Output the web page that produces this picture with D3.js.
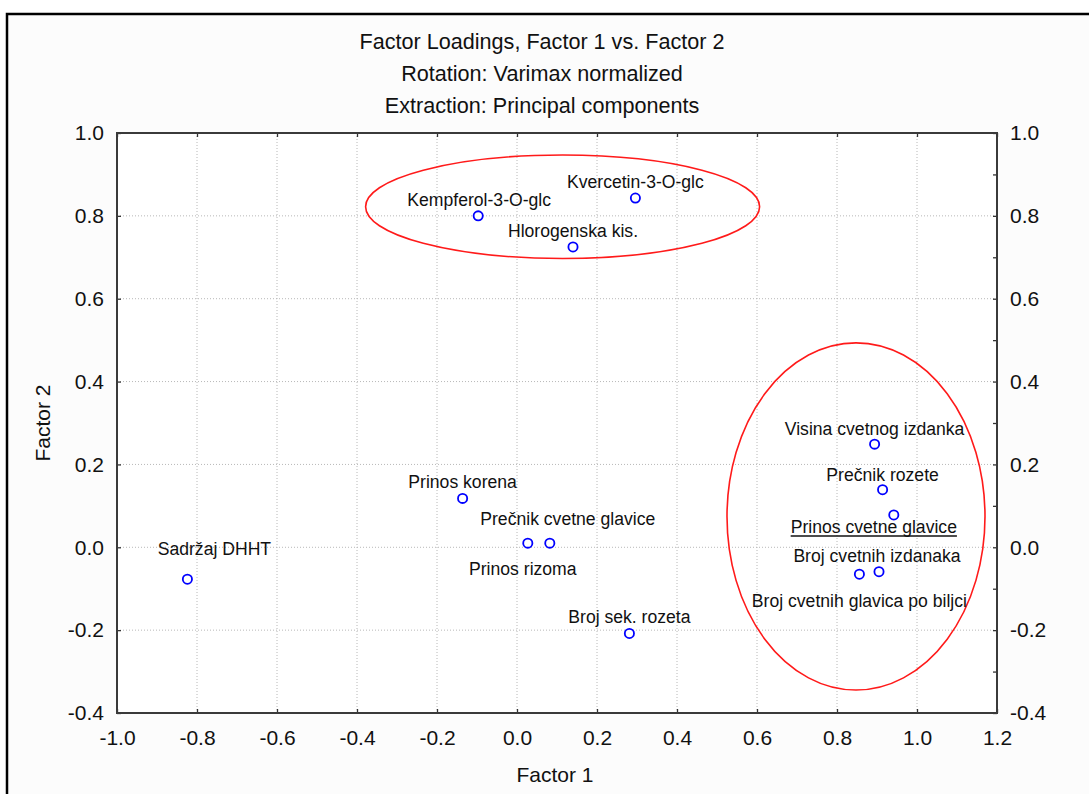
<!DOCTYPE html>
<html>
<head>
<meta charset="utf-8">
<script src="https://cdn.jsdelivr.net/npm/d3@7"></script>
<style>
  html, body { margin: 0; padding: 0; background: #ffffff; }
  svg { display: block; }
  text { font-family: "Liberation Sans", Arial, sans-serif; fill: #111; }
</style>
</head>
<body>
<svg id="chart" width="1089" height="794"></svg>
<script>
// ---------------- data ----------------
const titleLines = ["Factor Loadings, Factor 1 vs. Factor 2", "Rotation: Varimax normalized", "Extraction: Principal components"];
const xAxisTitle = "Factor 1";
const yAxisTitle = "Factor 2";

const variables = [
  "Kempferol-3-O-glc", "Kvercetin-3-O-glc", "Hlorogenska kis.",
  "Visina cvetnog izdanka", "Prečnik rozete", "Prinos cvetne glavice",
  "Broj cvetnih izdanaka", "Broj cvetnih glavica po biljci",
  "Sadržaj DHHT", "Prinos korena", "Prečnik cvetne glavice", "Prinos rizoma",
  "Broj sek. rozeta"
];
const factor1 = [-0.097, 0.296, 0.140, 0.894, 0.914, 0.942, 0.905, 0.856, -0.824, -0.136, 0.082, 0.027, 0.281];
const factor2 = [0.800, 0.843, 0.725, 0.249, 0.139, 0.078, -0.059, -0.065, -0.077, 0.118, 0.010, 0.010, -0.208];

// grouping ellipses (centre and semi-axes, in loading units)
const groupCx = [0.114, 0.8475];
const groupCy = [0.822, 0.0744];
const groupRx = [0.4925, 0.3225];
const groupRy = [0.1248, 0.419];

const xTickValues = [-1.0, -0.8, -0.6, -0.4, -0.2, 0.0, 0.2, 0.4, 0.6, 0.8, 1.0, 1.2];
const xTickLabels = ["-1.0", "-0.8", "-0.6", "-0.4", "-0.2", "0.0", "0.2", "0.4", "0.6", "0.8", "1.0", "1.2"];
const yTickValues = [-0.4, -0.2, 0.0, 0.2, 0.4, 0.6, 0.8, 1.0];
const yTickLabels = ["-0.4", "-0.2", "0.0", "0.2", "0.4", "0.6", "0.8", "1.0"];
const yMinorTickValues = [-0.4, -0.3, -0.2, -0.1, 0.0, 0.1, 0.2, 0.3, 0.4, 0.5, 0.6, 0.7, 0.8, 0.9, 1.0];

// ---------------- layout ----------------
// label placement relative to each point (pixels): [dx, dy, underline]
const labelPlacement = [
  [1, -10, false], [0, -10, false], [0, -10, false],
  [0, -9, false], [0, -9, false], [-20, 18, true],
  [-2, -10, false], [0, 33, false],
  [27, -24, false], [0, -10, false], [18, -18, false], [-5, 32, false],
  [0, -10, false]
];

const W = 1089, H = 794;
const plot = { left: 117, right: 997, top: 133, bottom: 713 };

const svg = d3.select("#chart");

// outer frame
svg.append("rect").attr("x", 7).attr("y", 14).attr("width", W + 20).attr("height", H + 20)
  .attr("fill", "#fcfcfc").attr("stroke", "#000").attr("stroke-width", 2.5);

const x = d3.scaleLinear().domain([-1.0, 1.2]).range([plot.left, plot.right]);
const y = d3.scaleLinear().domain([-0.4, 1.0]).range([plot.bottom, plot.top]);

// plot background
svg.append("rect").attr("x", plot.left).attr("y", plot.top)
  .attr("width", plot.right - plot.left).attr("height", plot.bottom - plot.top)
  .attr("fill", "#ffffff");

// grid
const grid = svg.append("g").attr("class", "grid");
grid.selectAll("line.vx").data(xTickValues.slice(1, -1)).join("line")
  .attr("x1", d => x(d)).attr("x2", d => x(d))
  .attr("y1", plot.top).attr("y2", plot.bottom)
  .attr("stroke", "#b8b8b8").attr("stroke-width", 1).attr("stroke-dasharray", "1,2");
grid.selectAll("line.hy").data(yTickValues.slice(1, -1)).join("line")
  .attr("y1", d => y(d)).attr("y2", d => y(d))
  .attr("x1", plot.left).attr("x2", plot.right)
  .attr("stroke", "#b8b8b8").attr("stroke-width", 1).attr("stroke-dasharray", "1,2");

// axes
const fmtX = d => xTickLabels[xTickValues.findIndex(v => Math.abs(v - d) < 1e-9)];
const fmtY = d => {
  const i = yTickValues.findIndex(v => Math.abs(v - d) < 1e-9);
  return i >= 0 ? yTickLabels[i] : "";
};

function styleAxis(g, fontSize) {
  g.select(".domain").remove();
  g.selectAll(".tick line").attr("stroke", "#333").attr("stroke-width", 1.3);
  g.selectAll(".tick text").attr("font-size", fontSize).attr("fill", "#111")
    .attr("font-family", "Liberation Sans, Arial, sans-serif");
}

svg.append("g").attr("transform", `translate(0,${plot.bottom})`)
  .call(d3.axisBottom(x).tickValues(xTickValues).tickFormat(fmtX).tickSizeInner(-4).tickSizeOuter(0).tickPadding(17))
  .call(g => styleAxis(g, 21));
svg.append("g").attr("transform", `translate(0,${plot.top})`)
  .call(d3.axisTop(x).tickValues(xTickValues).tickFormat("").tickSizeInner(-4).tickSizeOuter(0))
  .call(g => styleAxis(g, 21));
svg.append("g").attr("transform", `translate(${plot.left},0)`)
  .call(d3.axisLeft(y).tickValues(yTickValues).tickFormat(fmtY).tickSizeInner(-4).tickSizeOuter(0).tickPadding(13))
  .call(g => styleAxis(g, 21));
svg.append("g").attr("transform", `translate(${plot.right},0)`)
  .call(d3.axisRight(y).tickValues(yMinorTickValues).tickFormat(fmtY).tickSizeInner(-4).tickSizeOuter(0).tickPadding(13))
  .call(g => styleAxis(g, 21));

// plot frame
svg.append("rect").attr("x", plot.left).attr("y", plot.top)
  .attr("width", plot.right - plot.left).attr("height", plot.bottom - plot.top)
  .attr("fill", "none").attr("stroke", "#3a3a3a").attr("stroke-width", 2);

// titles
svg.append("g").selectAll("text").data(titleLines).join("text")
  .attr("x", 542).attr("y", (d, i) => 49 + i * 32)
  .attr("text-anchor", "middle").attr("font-size", 21.6).text(d => d);

svg.append("text").attr("x", 555).attr("y", 782).attr("text-anchor", "middle")
  .attr("font-size", 21).text(xAxisTitle);
svg.append("text").attr("transform", "translate(50,423) rotate(-90)")
  .attr("text-anchor", "middle").attr("font-size", 21).text(yAxisTitle);

// ellipses
svg.append("g").selectAll("ellipse").data(groupCx).join("ellipse")
  .attr("cx", (d, i) => x(groupCx[i]))
  .attr("cy", (d, i) => y(groupCy[i]))
  .attr("rx", (d, i) => x(groupCx[i] + groupRx[i]) - x(groupCx[i]))
  .attr("ry", (d, i) => y(groupCy[i]) - y(groupCy[i] + groupRy[i]))
  .attr("fill", "none").attr("stroke", "#ff1a1a").attr("stroke-width", 1.6);

// points
const pts = variables.map((name, i) => ({ name, f1: factor1[i], f2: factor2[i], i }));
svg.append("g").selectAll("circle").data(pts).join("circle")
  .attr("cx", d => x(d.f1)).attr("cy", d => y(d.f2)).attr("r", 4.6)
  .attr("fill", "#ffffff").attr("stroke", "#0000ff").attr("stroke-width", 1.8);

// labels
const labels = svg.append("g").selectAll("text").data(pts).join("text")
  .attr("x", d => x(d.f1) + labelPlacement[d.i][0])
  .attr("y", d => y(d.f2) + labelPlacement[d.i][1])
  .attr("text-anchor", "middle").attr("font-size", 17.6)
  .text(d => d.name);

labels.each(function(d) {
  if (labelPlacement[d.i][2]) {
    const bb = this.getBBox();
    const yy = y(d.f2) + labelPlacement[d.i][1] + 3;
    svg.append("line").attr("x1", bb.x).attr("x2", bb.x + bb.width)
      .attr("y1", yy).attr("y2", yy).attr("stroke", "#111").attr("stroke-width", 1.5);
  }
});
</script>
</body>
</html>
